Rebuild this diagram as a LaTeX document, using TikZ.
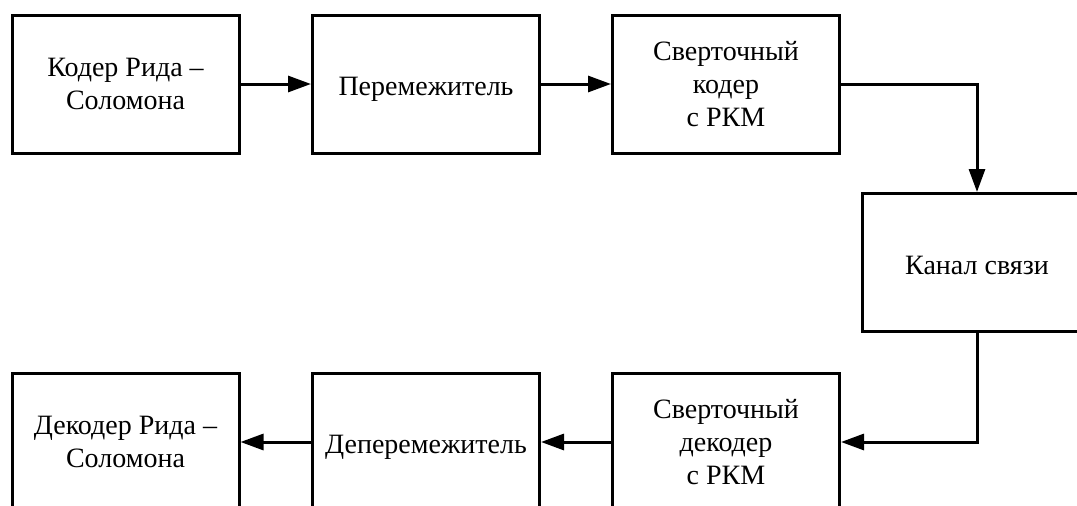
\documentclass[tikz,border=0pt]{standalone}
\usepackage{fontspec}
\setmainfont{Liberation Serif}
\usetikzlibrary{arrows.meta}
\begin{document}
\begin{tikzpicture}[x=1pt,y=-1pt,
  blk/.style={draw, line width=3pt, minimum width=227pt, minimum height=138pt,
    inner sep=0pt, align=center, font=\fontsize{28}{33}\selectfont},
  oneline/.style={text height=23pt, text depth=0pt},
  conn/.style={line width=3pt, -{Triangle[length=23pt,width=16pt]}}]
\useasboundingbox (0,0) rectangle (1077,506);
\clip (0,0) rectangle (1077,506);
\node[blk] (b1) at (125.5,84) {Кодер Рида –\\Соломона};
\node[blk, oneline] (b2) at (426,84) {Перемежитель};
\node[blk] (b3) at (726,84) {Сверточный\\кодер\\с РКМ};
\node[blk, oneline, minimum width=230pt] (ch) at (977,262.5) {Канал связи};
\node[blk] (d3) at (726,442) {Сверточный\\декодер\\с РКМ};
\node[blk, oneline] (d2) at (426,442) {Деперемежитель};
\node[blk] (d1) at (125.5,442) {Декодер Рида –\\Соломона};
\draw[conn] (b1) -- (b2);
\draw[conn] (b2) -- (b3);
\draw[conn] (b3.east) -| (ch.north);
\draw[conn] (ch.south) |- (d3.east);
\draw[conn] (d3) -- (d2);
\draw[conn] (d2) -- (d1);
\end{tikzpicture}
\end{document}
